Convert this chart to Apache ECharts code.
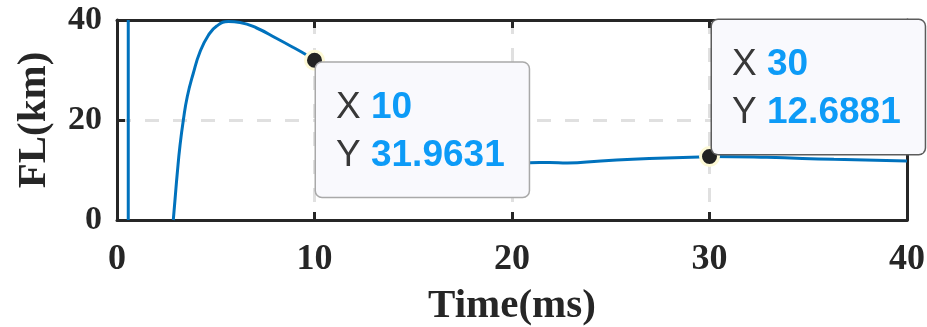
<!DOCTYPE html>
<html>
<head>
<meta charset="utf-8">
<script src="https://cdn.jsdelivr.net/npm/echarts@6/dist/echarts.min.js"></script>
<style>
  html, body { margin: 0; padding: 0; background: #ffffff; }
  #chart { width: 927px; height: 327px; }
</style>
</head>
<body>
<div id="chart"></div>
<script>
// Fault location estimate (km) versus time (ms)
const spikeTime = [0.57, 0.57];
const spikeKm = [0, 40];

const timeMs = [2.85, 2.94, 3.05, 3.19, 3.36, 3.56, 3.86, 4.2, 4.62, 5.05, 5.64, 6.23, 7.07, 8.09, 8.93, 9.6, 10,
                11, 12, 13, 14, 15, 16, 17, 18, 19, 20, 20.9, 21.9, 22.8, 24.5, 26.1, 27.8, 29.5, 30,
                32.9, 36.3, 40];
const faultKm = [0, 4.2, 9.3, 14.9, 20, 24.7, 29.3, 33.6, 36.9, 38.8, 39.7, 39.5, 38.4, 36.3, 34.5, 33, 31.9631,
                 29.0, 26.0, 23.2, 20.7, 18.5, 16.6, 15.0, 13.7, 12.6, 11.9, 11.47, 11.5, 11.4, 11.8, 12.13, 12.4, 12.62, 12.6881,
                 12.53, 12.13, 11.8];

// Data tips shown on the curve
const tipTimes = [10, 30];
const tipBorders = ['#a9a9a9', '#5c5c5c'];

const xMin = 0, xMax = 40, xStep = 10;
const yMin = 0, yMax = 40, yStep = 20;

const axisInk = '#262626';
const lineBlue = '#0072BD';
const serif = '"Liberation Serif", "Times New Roman", serif';
const sans = '"Liberation Sans", Arial, sans-serif';

function frameAxis(extra) {
  return Object.assign({
    axisLine: { show: true, onZero: false, lineStyle: { color: axisInk, width: 3 } },
    axisTick: { show: true, inside: true, length: 8, lineStyle: { color: axisInk, width: 3 } },
    axisLabel: { show: false },
    splitLine: { show: false }
  }, extra);
}

const gridLine = { show: true, lineStyle: { color: '#e0e0e0', width: 3, type: [14, 14] } };
const xTickFont = { fontFamily: serif, fontWeight: 'bold', fontSize: 36, color: axisInk };
const yTickFont = { fontFamily: serif, fontWeight: 'bold', fontSize: 34, color: axisInk };
const nameFont = { fontFamily: serif, fontWeight: 'bold', fontSize: 41, color: axisInk };

const tipPoints = tipTimes.map(function (t, i) {
  const y = faultKm[timeMs.indexOf(t)];
  const below = i === 0;
  return {
    coord: [t, y],
    label: {
      show: true,
      position: below ? [12, 13] : [13, 8],
      align: 'left',
      verticalAlign: below ? 'top' : 'bottom',
      formatter: '{k|X} {v|' + t + '}\n{k|Y} {v|' + y + '}',
      backgroundColor: '#f9f9fd',
      borderColor: tipBorders[i],
      borderWidth: 1.5,
      borderRadius: 6,
      padding: [21, 24, 17, 20],
      fontFamily: sans,
      fontSize: 37,
      lineHeight: 48,
      color: '#333333',
      rich: {
        k: { fontFamily: sans, fontSize: 37, lineHeight: 48, color: '#383838' },
        v: { fontFamily: sans, fontSize: 37, lineHeight: 48, fontWeight: 'bold', color: '#0d9bf7' }
      }
    }
  };
});

const chart = echarts.init(document.getElementById('chart'), null, { renderer: 'canvas' });
chart.setOption({
  animation: false,
  backgroundColor: '#ffffff',
  grid: { left: 117, right: 20, top: 20, bottom: 107, containLabel: false, outerBoundsMode: 'none' },
  xAxis: [
    frameAxis({
      type: 'value', position: 'bottom', min: xMin, max: xMax, interval: xStep,
      axisLabel: Object.assign({ show: true, margin: 22 }, xTickFont),
      splitLine: gridLine,
      name: 'Time(ms)', nameLocation: 'middle', nameGap: 66, nameTextStyle: nameFont
    }),
    frameAxis({ type: 'value', position: 'top', min: xMin, max: xMax, interval: xStep })
  ],
  yAxis: [
    frameAxis({
      type: 'value', position: 'left', min: yMin, max: yMax, interval: yStep,
      axisLabel: Object.assign({ show: true, margin: 15 }, yTickFont),
      splitLine: gridLine,
      name: 'FL(km)', nameLocation: 'middle', nameGap: 62, nameRotate: 90, nameTextStyle: nameFont
    }),
    frameAxis({ type: 'value', position: 'right', min: yMin, max: yMax, interval: yStep })
  ],
  series: [
    {
      type: 'line',
      data: spikeTime.map(function (t, i) { return [t, spikeKm[i]]; }),
      showSymbol: false,
      lineStyle: { color: lineBlue, width: 3 },
      clip: true,
      silent: true
    },
    {
      type: 'line',
      data: timeMs.map(function (t, i) { return [t, faultKm[i]]; }),
      smooth: 0.5,
      showSymbol: false,
      lineStyle: { color: lineBlue, width: 3 },
      clip: true,
      silent: true,
      markPoint: {
        symbol: 'circle',
        symbolSize: 18,
        itemStyle: { color: '#222222', borderColor: '#fdf9d6', borderWidth: 3 },
        data: tipPoints,
        z: 10
      }
    }
  ]
});
</script>
</body>
</html>
